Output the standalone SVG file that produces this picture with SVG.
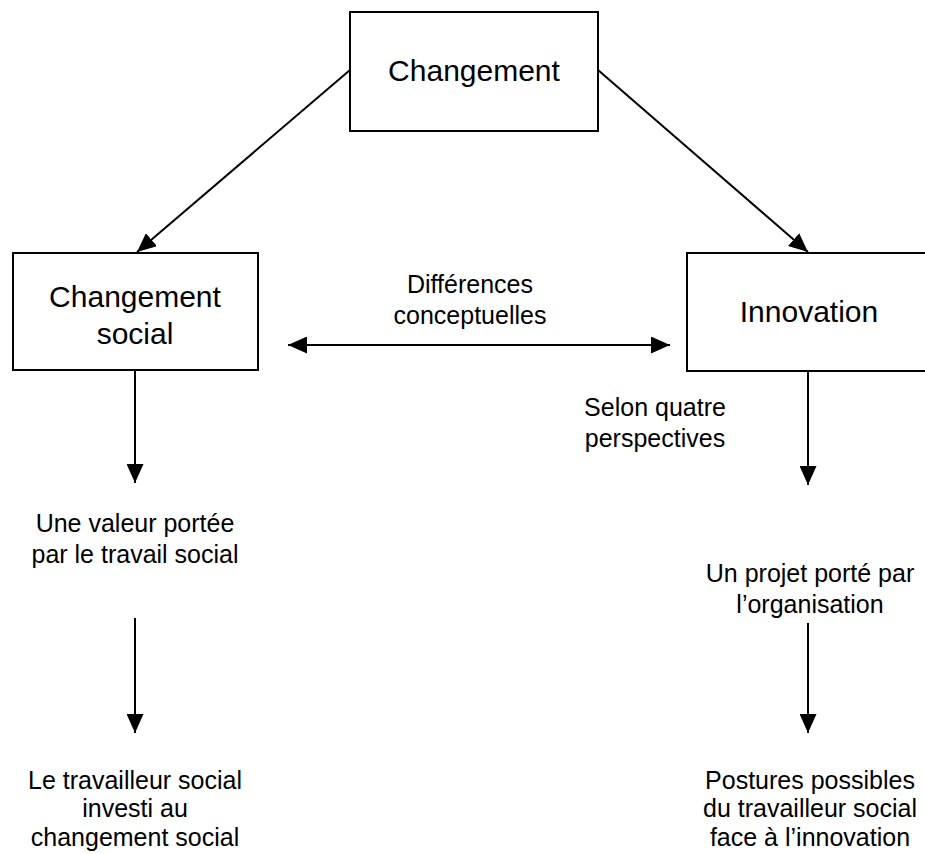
<svg xmlns="http://www.w3.org/2000/svg" width="925" height="854" viewBox="0 0 925 854">
<style>
.box{fill:#fff;stroke:#000;stroke-width:2}
.big{font-family:"Liberation Sans",Arial,sans-serif;font-size:30px;text-anchor:middle;fill:#000}
.lbl{font-family:"Liberation Sans",Arial,sans-serif;font-size:25px;text-anchor:middle;fill:#000}
.ln{stroke:#000;stroke-width:2;fill:none}
</style>
<defs>
<marker id="ah" viewBox="0 0 19 17" refX="19" refY="8.5" markerWidth="19" markerHeight="17" markerUnits="userSpaceOnUse" orient="auto-start-reverse">
<path d="M0,0 L19,8.5 L0,17 Z" fill="#000"/>
</marker>
</defs>
<rect width="925" height="854" fill="#fff"/>
<g id="connectors">
<line class="ln" x1="350" y1="70" x2="137" y2="252" marker-end="url(#ah)"/>
<line class="ln" x1="598" y1="70" x2="808" y2="252" marker-end="url(#ah)"/>
<line class="ln" x1="288" y1="345" x2="670" y2="345" marker-start="url(#ah)" marker-end="url(#ah)"/>
<line class="ln" x1="135" y1="370" x2="135" y2="483" marker-end="url(#ah)"/>
<line class="ln" x1="135" y1="618" x2="135" y2="733" marker-end="url(#ah)"/>
<line class="ln" x1="808" y1="371" x2="808" y2="485" marker-end="url(#ah)"/>
<line class="ln" x1="808" y1="623" x2="808" y2="733" marker-end="url(#ah)"/>
</g>
<g id="n-changement">
<rect class="box" x="350" y="12" width="248" height="119"/>
<text class="big" x="474" y="81">Changement</text>
</g>
<g id="n-changement-social">
<rect class="box" x="13" y="253" width="245" height="117"/>
<text class="big" x="135" y="307">Changement</text>
<text class="big" x="135" y="344">social</text>
</g>
<g id="n-innovation">
<rect class="box" x="687" y="253" width="250" height="118"/>
<text class="big" x="809" y="322">Innovation</text>
</g>
<g id="l-differences">
<text class="lbl" x="470" y="293">Différences</text>
<text class="lbl" x="470" y="324">conceptuelles</text>
</g>
<g id="l-selon">
<text class="lbl" x="655" y="416">Selon quatre</text>
<text class="lbl" x="655" y="447">perspectives</text>
</g>
<g id="n-valeur">
<text class="lbl" x="135" y="532">Une valeur portée</text>
<text class="lbl" x="135" y="563">par le travail social</text>
</g>
<g id="n-projet">
<text class="lbl" x="810" y="582">Un projet porté par</text>
<text class="lbl" x="810" y="613">l’organisation</text>
</g>
<g id="n-travailleur">
<text class="lbl" x="135" y="789">Le travailleur social</text>
<text class="lbl" x="135" y="817">investi au</text>
<text class="lbl" x="135" y="846">changement social</text>
</g>
<g id="n-postures">
<text class="lbl" x="810" y="789">Postures possibles</text>
<text class="lbl" x="810" y="817">du travailleur social</text>
<text class="lbl" x="810" y="846">face à  l’innovation</text>
</g>
</svg>
